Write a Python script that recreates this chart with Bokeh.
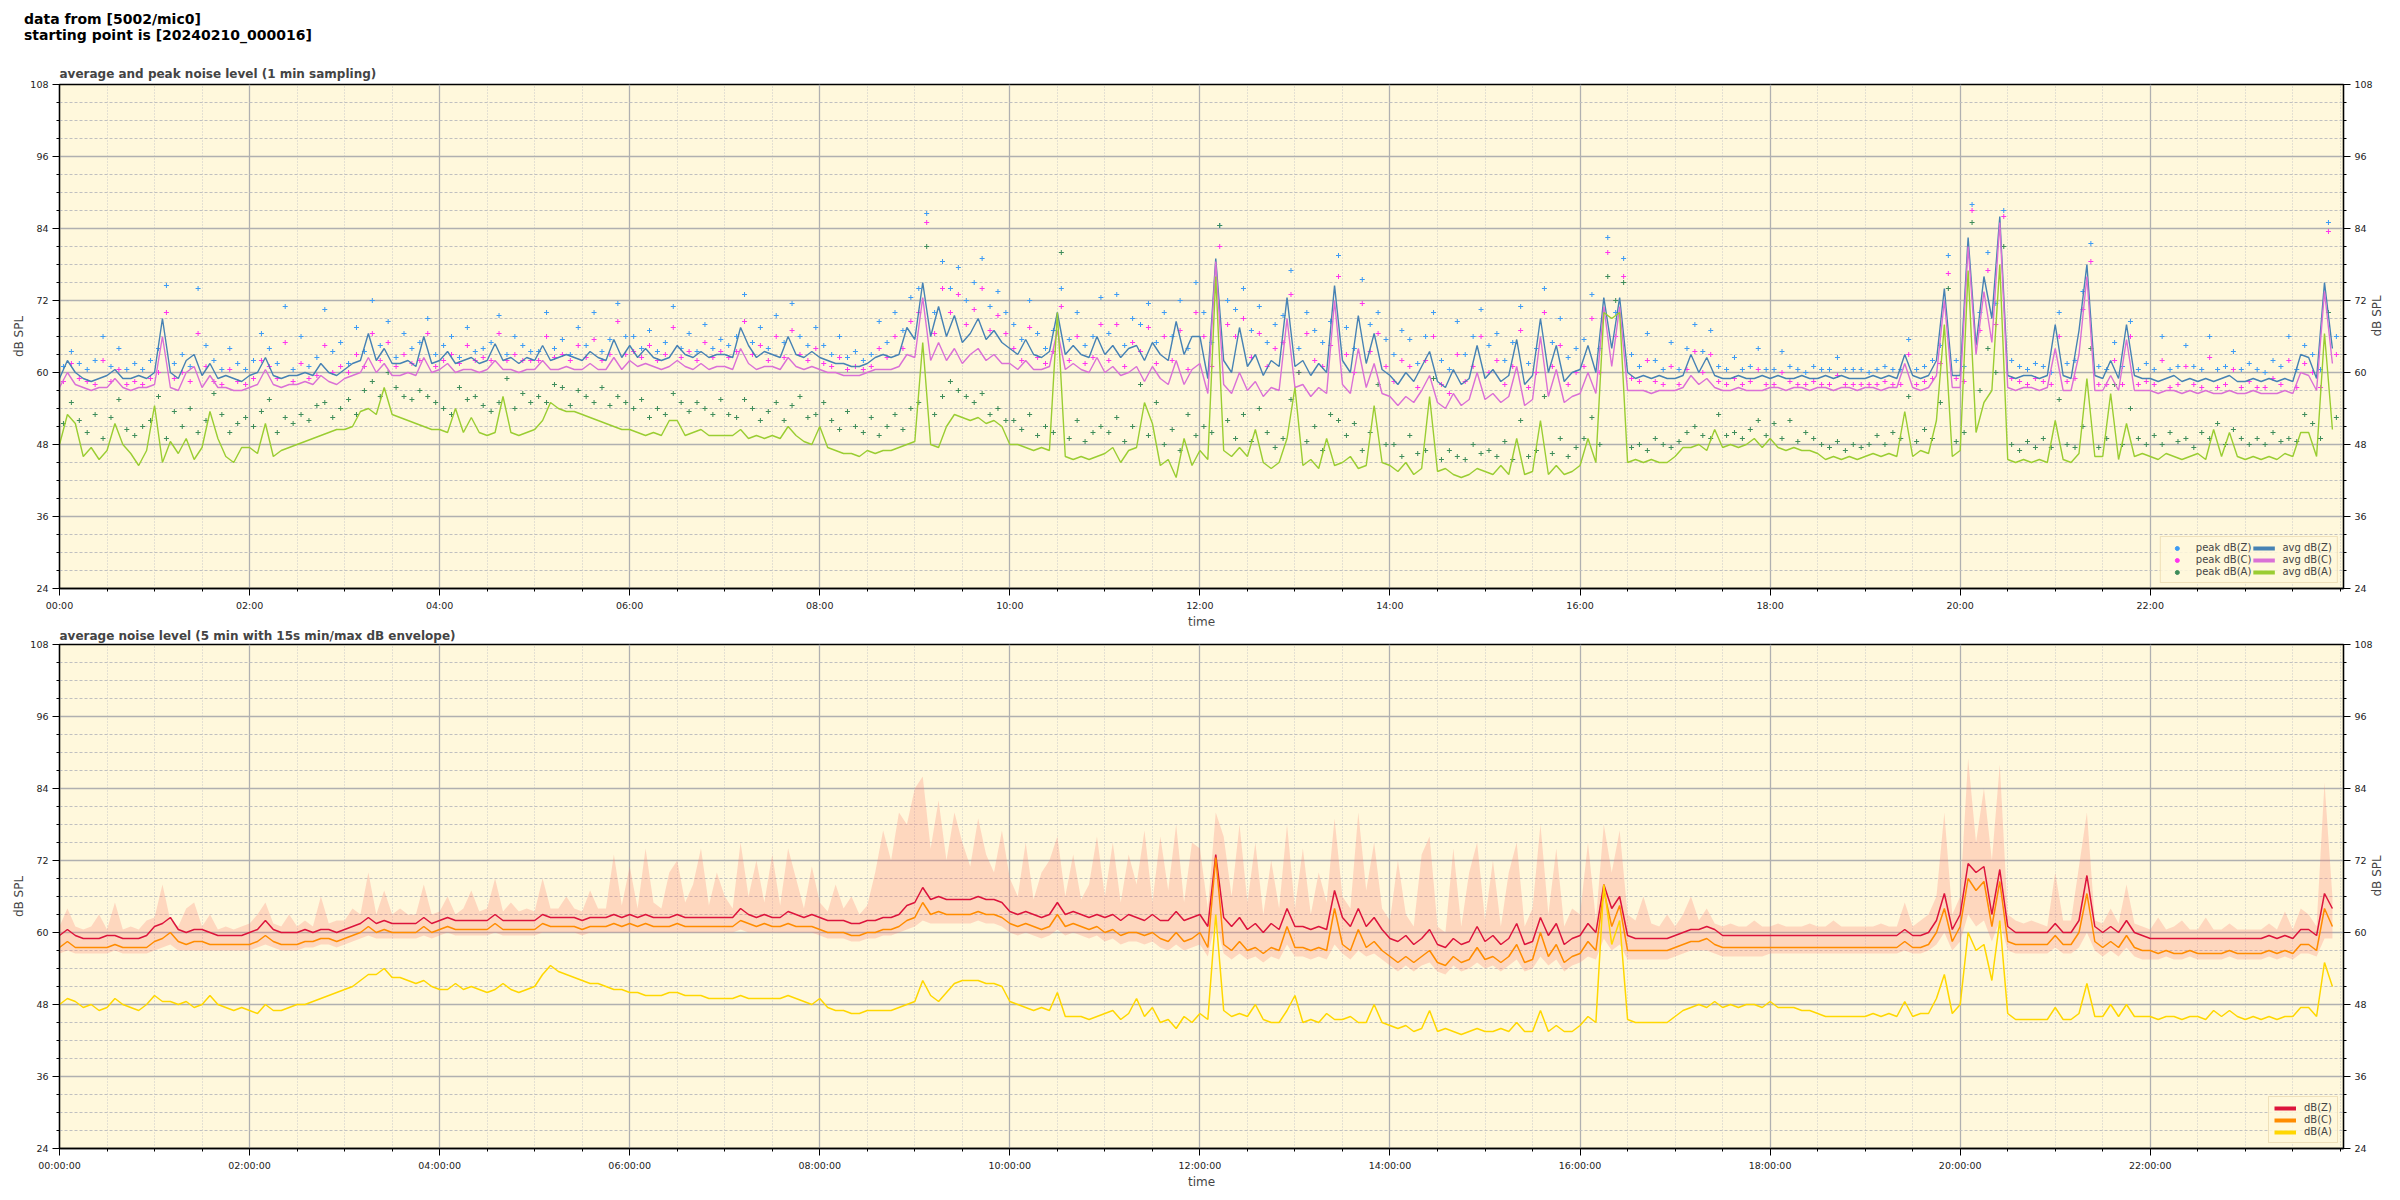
import math
from bokeh.plotting import figure
from bokeh.models import FixedTicker, LinearAxis, Range1d, Legend, LegendItem, Div
from bokeh.layouts import column
from bokeh.embed import file_html
from bokeh.resources import INLINE

# ---------------- data (5-minute grid, 00:00 .. 23:55) ----------------
minutes = list(range(0, 1440, 5))
peak_minutes = [m + 2.5 for m in minutes]

avg_z = [
    59, 62, 60, 59, 58.5, 59, 59.5, 60.5, 59, 59, 59.5, 59,
    60, 69, 60, 59, 62, 63, 59.5, 61.5, 59, 59.5, 59, 58.5,
    59.5, 60, 62.5, 59.5, 59, 59.5, 59.5, 60, 59.5, 61.5, 60, 59.5,
    60.5, 61.5, 62, 66.5, 62, 64, 61.5, 61.5, 62, 61, 66, 61.5,
    62, 63.5, 61.5, 62, 62.5, 61.5, 62, 64.8, 62, 62.5, 61.5, 62.5,
    62, 64.5, 62, 62.5, 63, 62.5, 62, 63.5, 62.5, 62, 65.5, 62.5,
    64.5, 62.5, 64, 62.5, 62, 62.5, 64.5, 63, 62.5, 63.5, 62.5, 63,
    63, 62.5, 67.5, 64.5, 62.5, 63.5, 63, 62.5, 66, 63, 62.5, 63.5,
    62.5, 62, 61.5, 61.5, 61, 61, 61.5, 62.5, 63, 62.5, 63, 67.5,
    65.5, 75, 66, 71, 66, 69.5, 65, 66.5, 69, 65.5, 67, 65,
    64, 63, 65.5, 63, 62.5, 63.5, 70, 63, 64.5, 63, 62.5, 66,
    63, 64.5, 62.5, 64, 64.5, 62, 65, 63, 62, 68.5, 63, 66,
    66, 59, 79, 62, 60, 67.5, 61, 63, 59.5, 62, 61, 72.5,
    61, 62, 59.5, 61.5, 60, 74.5, 62, 60, 69.5, 61.5, 66.5, 60.5,
    59.5, 58, 60, 58.5, 61, 63.5, 58.5, 57.5, 60.5, 58, 59, 64.5,
    59, 60.5, 58.5, 59.5, 65.5, 58, 59.5, 69, 60, 64.5, 58.5, 60,
    60.5, 64.5, 60, 72.5, 64, 72.5, 60, 59, 59.5, 59, 59.5, 59,
    59, 59.5, 63, 60, 62.5, 59.5, 59, 59, 59.5, 59, 59, 59.5,
    59, 59.5, 59, 59, 59.5, 59, 59, 59.5, 59, 59.5, 59, 59,
    59, 59.5, 59, 59.5, 59, 63, 59.5, 59, 59.5, 62, 74, 59.5,
    59.5, 82.5, 64.5, 76, 69, 86, 59.5, 59, 59.5, 59.5, 59, 59.5,
    68, 59.5, 59, 67, 78, 59.5, 59, 62, 59, 68, 59.5, 59,
    59, 58.5, 59, 59.5, 58.5, 59, 58.5, 59, 58.5, 59, 59.5, 58.5,
    58.5, 59, 58.5, 59, 58.5, 59, 58.5, 63, 62.5, 59, 75, 64,
]

avg_c = [
    57.5, 60, 58, 57.5, 57, 57.5, 57.5, 59, 57.5, 57, 57.5, 57.5,
    58, 66, 57.5, 57, 60, 61, 57.5, 59.5, 57.5, 57.5, 57, 57,
    57.5, 58, 60.5, 58, 57.5, 58, 58, 58.5, 58, 59.5, 58.5, 58,
    59, 59.5, 60, 62.5, 60, 61.5, 59.5, 59.5, 60, 59.5, 62.5, 60,
    60.5, 61.5, 60, 60.5, 60.5, 60, 60.5, 62, 60.5, 60.5, 60, 60.5,
    60.5, 62, 60.5, 60.5, 61, 60.5, 60.5, 61.5, 60.5, 60.5, 62.5, 60.5,
    62, 61, 61.5, 61, 60.5, 61, 62, 61, 60.5, 61.5, 60.5, 61,
    61, 60.5, 64, 61.5, 60.5, 61, 61, 60.5, 62.5, 61, 60.5, 61,
    60.5, 60, 60, 59.5, 59.5, 59.5, 60, 60.5, 60.5, 60.5, 61, 63,
    62.5, 72.5, 62, 65, 62, 64, 61.5, 63, 64, 62, 63, 61.5,
    61.5, 60.5, 62, 60.5, 60.5, 61, 67, 60.5, 61.5, 60.5, 60, 62.5,
    60, 61, 59.5, 60, 61, 58.5, 61, 59, 58, 62, 58, 60.5,
    61.5, 56.5, 78.5, 58, 56.5, 60, 57, 58.5, 56, 57.5, 57, 69,
    57.5, 58, 56, 57.5, 56.5, 72, 58, 56.5, 64, 57.5, 61.5, 56.5,
    56, 54.5, 56, 55, 57, 59.5, 55, 54, 56.5, 54.5, 55.5, 60,
    55.5, 56.5, 55, 56, 61, 54.5, 55.5, 66, 56, 60.5, 55, 56,
    56.5, 60, 56.5, 71, 61, 71, 57, 57, 57, 56.5, 57, 57,
    57, 57.5, 59.5, 58, 59, 57.5, 57, 57, 57.5, 57, 57, 57,
    57.5, 57.5, 57, 57.5, 57.5, 57, 57.5, 57.5, 57, 57.5, 57.5, 57,
    57.5, 57.5, 57, 57.5, 57.5, 61.5, 57.5, 57, 57.5, 59.5, 72, 57.5,
    57.5, 81, 63, 73.5, 65, 85, 57.5, 57, 57.5, 57.5, 57, 57.5,
    64, 57, 57, 63, 76, 57, 57, 59.5, 57, 65.5, 57, 57,
    57, 56.5, 57, 57, 56.5, 57, 56.5, 57, 56.5, 56.5, 57, 56.5,
    56.5, 57, 56.5, 56.5, 56.5, 57, 56.5, 60, 59.5, 57, 73.5, 61.5,
]

avg_a = [
    48, 53, 51.5, 46, 47.5, 45.5, 47, 51.5, 48, 46.5, 44.5, 47,
    54.5, 45, 48.5, 46.5, 49, 45.5, 47.5, 53.5, 49, 46, 45, 47.5,
    47.5, 46.5, 51.5, 46, 47, 47.5, 48, 48.5, 49, 49.5, 50, 50.5,
    50.5, 51, 53.5, 54, 53, 57.5, 53, 52.5, 52, 51.5, 51, 50.5,
    50.5, 50, 54, 50, 52.5, 50, 49.5, 50, 56, 50, 49.5, 50,
    50.5, 52, 55, 54, 53.5, 53.5, 53, 52.5, 52, 51.5, 51, 50.5,
    50.5, 50, 49.5, 50, 49.5, 52, 52, 49.5, 50, 50.5, 49.5, 49.5,
    49.5, 49.5, 50.5, 49, 49.5, 49, 49.5, 49, 51, 49.5, 48.5, 48,
    51, 47.5, 47, 46.5, 46.5, 46, 47, 46.5, 47, 47, 47.5, 48,
    48.5, 65, 48, 47.5, 51, 53, 52.5, 52, 52.5, 51.5, 52, 51,
    48, 48, 47.5, 47, 47.5, 47, 70, 46, 45.5, 46, 45.5, 46,
    46.5, 47.5, 45, 47, 47.5, 55, 51.5, 44.5, 45.5, 42.5, 49, 44.5,
    47, 45.5, 76, 47, 46, 47.5, 46, 50.5, 45, 44, 45, 49,
    57.5, 44.5, 45.5, 44, 49, 44.5, 45, 46, 44, 44.5, 54.5, 45,
    44.5, 43.5, 45, 43, 44, 56, 43.5, 44, 43, 42.5, 43, 44,
    43.5, 43, 44.5, 43, 49, 43, 43.5, 52, 43, 44.5, 43, 43.5,
    44.5, 49, 45, 70, 69, 70, 45, 45.5, 45, 45.5, 45, 45,
    46, 47.5, 47.5, 48, 47, 50.5, 47.5, 48, 47.5, 48, 49, 47.5,
    49, 47.5, 47, 47.5, 47, 47, 46.5, 45.5, 46, 45.5, 46, 45.5,
    46, 46.5, 46, 46.5, 46, 53.5, 46, 47, 46.5, 52, 68, 46,
    47, 77, 50, 55, 57, 78, 45.5, 45, 45.5, 45, 45.5, 45,
    52, 45.5, 45, 46.5, 59, 46, 46, 56.5, 45.5, 51.5, 46, 46.5,
    46, 45.5, 46.5, 46, 45.5, 46, 46.5, 45.5, 50.5, 46, 50, 46,
    45.5, 46, 45.5, 46, 45.5, 46.5, 46, 50, 50, 46, 66.5, 50.5,
]

peak_z = [
    61, 63.5, 61.5, 60.5, 62, 66, 61, 64, 60.5, 61.5, 60.5, 62,
    64, 74.5, 61.5, 63, 61, 74, 64.5, 62, 60.5, 64, 61.5, 60.5,
    62, 66.5, 64, 61.5, 71, 60.5, 66, 61, 62.5, 70.5, 63.5, 65,
    61.5, 67.5, 63.5, 72, 64.5, 68.5, 62.5, 66.5, 64, 65, 69, 63,
    64.5, 66, 62.5, 67.5, 63.5, 64, 65, 69.5, 63, 66, 64.5, 63.5,
    63.5, 70, 64, 65.5, 63, 67.5, 64.5, 70, 63.5, 65.5, 71.5, 66,
    66, 64, 67, 63.5, 65, 71, 64, 66.5, 63.5, 68, 64, 65.5,
    64.5, 66, 73, 65, 67.5, 64, 69.5, 65, 71.5, 66, 64.5, 67.5,
    64.5, 63, 66, 62.5, 63.5, 62, 63, 68.5, 65, 70, 67, 72.5,
    74, 86.5, 70, 78.5, 74, 77.5, 72, 75, 79, 71, 73.5, 70,
    68, 65.5, 72, 66.5, 64, 67, 74, 65.5, 70, 64.5, 66, 72.5,
    66.5, 73, 64.5, 69, 68, 71.5, 65, 70, 66, 72, 64, 75,
    70, 65, 84.5, 72, 70.5, 74, 67, 71, 65, 68, 69.5, 77,
    64, 70, 67, 65, 68.5, 79.5, 67.5, 64, 75.5, 68, 70, 65.5,
    63, 67, 65.5, 61.5, 66, 70, 62, 60.5, 68.5, 63, 66, 70.5,
    64.5, 66.5, 62, 65, 71, 61.5, 64, 74, 65, 69, 62.5, 64,
    65.5, 73, 64, 82.5, 70, 79, 63, 61, 66.5, 62, 60.5, 65,
    60.5, 64, 68, 63.5, 67, 61, 60.5, 62.5, 60.5, 61, 64, 60.5,
    60.5, 63.5, 61, 60.5, 60, 61, 60.5, 60.5, 62.5, 60.5, 60.5, 60.5,
    60, 60.5, 61, 60.5, 60.5, 65.5, 60.5, 61, 62, 64.5, 79.5, 62,
    61, 88, 70, 80, 71.5, 87, 62, 61, 60.5, 61.5, 61, 60,
    70, 61.5, 62, 73.5, 81.5, 61, 60.5, 65, 61, 68.5, 60.5, 61.5,
    60.5, 66, 60.5, 61, 64.5, 61, 60.5, 66, 60.5, 61, 63.5, 60.5,
    61.5, 60.5, 60, 62, 61, 66, 60.5, 64.5, 63, 60.5, 85, 66,
]

peak_c = [
    58.5, 61.5, 59, 58.5, 58, 62, 58.5, 60.5, 58, 58.5, 58, 59,
    60, 70, 59, 60, 58.5, 66.5, 61, 58.5, 58, 60.5, 58.5, 58,
    59, 62, 61, 59, 65, 58.5, 61.5, 59, 59.5, 64.5, 60, 61,
    60, 63, 61, 66.5, 62, 65, 61, 63, 61.5, 62, 66.5, 61,
    62, 63, 61.5, 64.5, 62, 62.5, 62, 66.5, 62, 63, 62, 62,
    62, 66, 62.5, 63, 62, 64.5, 62.5, 65.5, 62, 63, 68.5, 63,
    63.5, 62.5, 64.5, 62, 63, 67.5, 62.5, 63.5, 62, 65, 62.5, 63.5,
    62.5, 63.5, 68.5, 63, 64.5, 62, 66, 62.5, 67, 63, 62, 64,
    61.5, 61, 62.5, 60.5, 61, 60.5, 61, 64, 62.5, 66, 64, 68.5,
    70, 85, 66.5, 74, 70, 73, 68, 70.5, 74, 67, 69.5, 66.5,
    64, 62, 67.5, 62.5, 61.5, 63.5, 71, 62, 66, 61.5, 62.5, 68,
    62, 68, 61, 65, 63.5, 67.5, 61.5, 66, 62, 67, 60.5, 70,
    66, 61, 81, 68, 66, 69, 62.5, 66.5, 61, 64, 65, 73,
    60, 66.5, 62, 61, 64.5, 76, 63, 60, 71.5, 63.5, 66.5, 61,
    58.5, 62, 61, 57.5, 62, 66, 58, 56.5, 63, 58.5, 61, 66,
    60, 62, 58, 61, 67, 57.5, 60, 70, 61, 64.5, 58, 60,
    61, 69, 60, 80, 66, 76, 59, 58.5, 62, 58.5, 58, 61,
    58, 60.5, 63.5, 60, 63, 58.5, 58, 59, 58, 58.5, 60.5, 58,
    58, 60, 58.5, 58, 58, 58.5, 58, 58, 59.5, 58, 58, 58,
    58, 58, 58.5, 58, 58, 63, 58, 58.5, 59, 61.5, 76.5, 59,
    58.5, 87, 67, 77, 68, 86, 59, 58.5, 58, 59, 58.5, 58,
    66, 58.5, 59, 70.5, 78.5, 58, 58, 62, 58, 66, 58, 58.5,
    58, 62, 57.5, 58, 61, 58, 57.5, 62.5, 57.5, 58, 60.5, 57.5,
    58.5, 57.5, 57.5, 59, 58, 62, 57.5, 61.5, 60, 57.5, 83.5, 63,
]

peak_a = [
    51.5, 55, 52, 50, 53, 49, 52.5, 55.5, 50.5, 49.5, 51, 52,
    56, 49, 53.5, 51, 54, 50, 52, 56.5, 53, 50, 51.5, 52.5,
    51, 53.5, 55.5, 50, 52.5, 51.5, 53, 52, 54.5, 55, 52.5, 54,
    55.5, 53, 57, 58.5, 56, 60, 57.5, 56, 55.5, 57, 56, 55,
    54, 53, 57.5, 55.5, 56, 54.5, 53.5, 55, 59, 54, 56.5, 55,
    56, 55, 58, 57.5, 54.5, 57, 56, 55, 57.5, 54.5, 56, 55,
    54, 55.5, 52.5, 54, 53, 56.5, 55, 53.5, 55, 54, 53, 55.5,
    53, 52.5, 55.5, 54, 52, 53.5, 55, 52, 54.5, 56, 52.5, 53,
    55, 52, 50.5, 53.5, 51, 50, 52.5, 49.5, 51, 53, 50.5, 54,
    55, 81, 53, 56, 58.5, 57, 56, 55, 56.5, 53, 54, 52,
    52, 50.5, 53, 49.5, 51, 50, 80, 49, 52, 48.5, 50, 51,
    50, 52.5, 48.5, 51, 58, 49.5, 55, 48, 50.5, 47, 53, 49.5,
    51, 50, 84.5, 52, 49, 53, 48.5, 54, 50, 47.5, 49, 55.5,
    60, 48.5, 51, 47, 53, 52, 49.5, 51.5, 47, 50, 58, 48,
    48, 46, 49.5, 46.5, 47, 59, 45.5, 47, 46, 45.5, 48, 46.5,
    47, 46, 48.5, 45.5, 52, 46, 47, 56, 46.5, 49, 46, 47.5,
    49, 52.5, 48, 76, 72, 75, 47.5, 48, 47, 49, 48, 47.5,
    48.5, 50, 51, 49.5, 49, 53, 49.5, 50, 49, 50.5, 52, 49.5,
    51.5, 49, 52, 48.5, 50, 49, 48, 47.5, 48.5, 47, 48, 47.5,
    48, 49.5, 48, 50, 49, 56, 48.5, 50.5, 49, 55, 74, 48.5,
    50, 85, 57, 64, 60, 81, 48, 47, 48.5, 47.5, 49, 47.5,
    55.5, 48, 47.5, 51, 64, 47.5, 49, 58, 48, 54, 49, 48,
    49.5, 48, 50, 48.5, 49, 47.5, 50, 49, 51.5, 48, 50.5, 49,
    48, 49, 48, 50, 48.5, 49, 48.5, 53, 51.5, 49, 70, 52.5,
]

lvl_z = [
    59.5, 60.5, 59.5, 59, 59, 59, 59.5, 59.5, 59, 59, 59, 59.5,
    61, 61.5, 62.5, 60.5, 60, 60.5, 60.5, 60, 59.5, 59.5, 59.5, 59.5,
    60, 60.5, 62, 60.5, 60, 60, 60, 60.5, 60, 60.5, 60.5, 60,
    60.5, 61, 61.5, 62.5, 61.5, 62, 61.5, 61.5, 61.5, 61.5, 62.5, 61.5,
    62, 62.5, 62, 62, 62, 62, 62, 63, 62, 62, 62, 62,
    62, 63, 62.5, 62.5, 62.5, 62.5, 62, 62.5, 62.5, 62.5, 63, 62.5,
    63, 62.5, 63, 62.5, 62.5, 62.5, 63, 62.5, 62.5, 62.5, 62.5, 62.5,
    62.5, 62.5, 64, 63, 62.5, 63, 62.5, 62.5, 63.5, 63, 62.5, 63,
    62.5, 62, 62, 62, 61.5, 61.5, 62, 62, 62.5, 62.5, 63, 64.5,
    65, 67.5, 65.5, 66, 65.5, 65.5, 65.5, 65.5, 66, 65.5, 65.5, 65,
    63.5, 63, 63.5, 63, 62.5, 63, 65, 63, 63.5, 63, 62.5, 63,
    62.5, 63, 62, 63, 62.5, 62, 63, 62, 62, 63.5, 62, 62.5,
    63, 61, 73, 62.5, 61, 62.5, 60.5, 61.5, 60, 61.5, 60.5, 64,
    61, 61, 60.5, 61, 60.5, 67, 62.5, 61, 64, 61, 62.5, 60.5,
    59, 58.5, 59.5, 58, 59, 60.5, 58, 57.5, 59, 58, 58.5, 61,
    58.5, 59.5, 58, 59, 61.5, 58, 58.5, 62.5, 59.5, 61.5, 58, 59,
    59.5, 61.5, 60, 68, 64, 66, 59.5, 59, 59, 59, 59, 59,
    59.5, 60, 60.5, 60.5, 61, 60.5, 59.5, 59.5, 59.5, 59.5, 59.5, 59.5,
    59.5, 59.5, 59.5, 59.5, 59.5, 59.5, 59.5, 59.5, 59.5, 59.5, 59.5, 59.5,
    59.5, 59.5, 59.5, 59.5, 59.5, 60.5, 59.5, 59.5, 60, 62, 66.5, 60.5,
    63, 71.5, 70, 71, 63, 70.5, 61, 60, 60, 60, 60, 60,
    61.5, 60, 60, 62, 69.5, 61, 60, 61, 60, 62, 60, 59.5,
    59, 59, 59, 59, 59, 59, 59, 59, 59, 59, 59, 59,
    59, 59, 59, 59.5, 59, 59.5, 59, 60.5, 60.5, 59.5, 66.5, 64,
]

lvl_c = [
    57.5, 58.5, 57.5, 57.5, 57.5, 57.5, 57.5, 58, 57.5, 57.5, 57.5, 57.5,
    58.5, 59, 60, 58.5, 58, 58.5, 58.5, 58, 58, 58, 58, 58,
    58, 58.5, 59.5, 58.5, 58, 58, 58, 58.5, 58.5, 59, 59, 58.5,
    59, 59.5, 60, 61, 60, 60.5, 60, 60, 60, 60, 61, 60,
    60.5, 61, 60.5, 60.5, 60.5, 60.5, 60.5, 61.5, 60.5, 60.5, 60.5, 60.5,
    60.5, 61.5, 61, 61, 61, 61, 60.5, 61, 61, 61, 61.5, 61,
    61.5, 61, 61.5, 61, 61, 61, 61.5, 61, 61, 61, 61, 61,
    61, 61, 62, 61.5, 61, 61.5, 61, 61, 61.5, 61, 61, 61,
    60.5, 60, 60, 60, 59.5, 59.5, 60, 60, 60.5, 60.5, 61, 62,
    62.5, 65, 63, 63.5, 63, 63, 63, 63, 63.5, 63, 63, 62.5,
    61.5, 61, 61.5, 61, 60.5, 61, 63, 61, 61.5, 61, 60.5, 61,
    60, 60.5, 59.5, 60, 60, 59.5, 60, 59, 58.5, 60, 58.5, 59,
    60, 57.5, 72.5, 58, 57, 58.5, 57, 57.5, 56.5, 57.5, 57, 61,
    57.5, 57.5, 57, 57.5, 57, 64, 58, 57, 60.5, 57.5, 58.5, 57,
    56, 55, 56, 55, 56, 57, 55, 54.5, 56, 55, 55.5, 57.5,
    55.5, 56, 55, 56, 58, 55, 55.5, 60, 56, 58, 55, 56,
    56.5, 58.5, 57, 67, 61, 64.5, 57, 57, 57, 57, 57, 57,
    57.5, 58, 58.5, 58.5, 59, 58, 57.5, 57.5, 57.5, 57.5, 57.5, 57.5,
    57.5, 57.5, 57.5, 57.5, 57.5, 57.5, 57.5, 57.5, 57.5, 57.5, 57.5, 57.5,
    57.5, 57.5, 57.5, 57.5, 57.5, 58.5, 57.5, 57.5, 58, 60, 64, 58.5,
    61, 69, 67, 68.5, 61, 68.5, 58.5, 58, 58, 58, 58, 58,
    59.5, 58, 58, 60, 66.5, 58.5, 57.5, 58.5, 57.5, 59.5, 57.5, 57,
    57, 56.5, 57, 56.5, 56.5, 57, 56.5, 56.5, 56.5, 56.5, 57, 56.5,
    56.5, 56.5, 56.5, 57, 56.5, 57, 56.5, 58, 58, 57, 64, 61,
]

lvl_a = [
    48, 49, 48.5, 47.5, 48, 47, 47.5, 49, 48, 47.5, 47, 48,
    49.5, 48.5, 48.5, 48, 48.5, 47.5, 48, 49.5, 48, 47.5, 47, 47.5,
    47, 46.5, 48, 47, 47, 47.5, 48, 48, 48.5, 49, 49.5, 50,
    50.5, 51, 52, 53, 53, 54, 52.5, 52.5, 52, 51.5, 52, 51,
    50.5, 50.5, 51.5, 50.5, 51, 50.5, 50, 50.5, 51.5, 50.5, 50, 50.5,
    51, 53, 54.5, 53.5, 53, 52.5, 52, 51.5, 51.5, 51, 50.5, 50.5,
    50, 50, 49.5, 49.5, 49.5, 50, 50, 49.5, 49.5, 49.5, 49, 49,
    49, 49, 49.5, 49, 49, 49, 49, 49, 49.5, 49, 48.5, 48,
    49, 47.5, 47, 47, 46.5, 46.5, 47, 47, 47, 47, 47.5, 48,
    48.5, 52, 49.5, 48.5, 50, 51.5, 52, 52, 52, 51.5, 51.5, 51,
    48.5, 48, 47.5, 47, 47.5, 47, 50, 46, 46, 46, 45.5, 46,
    46.5, 47, 45.5, 46.5, 49, 46, 47.5, 45, 45.5, 44, 46, 45,
    46.5, 45.5, 63, 47, 46, 46.5, 46, 48, 45.5, 45, 45, 47,
    49.5, 45, 45.5, 45, 46.5, 45.5, 45.5, 46, 45, 45, 48, 45,
    44.5, 44, 44.5, 43.5, 44, 47, 43.5, 44, 43.5, 43, 43.5, 44,
    43.5, 43.5, 44, 43.5, 45, 43.5, 43.5, 47, 43.5, 44.5, 43.5, 43.5,
    44.5, 46, 45, 68, 58, 62, 45.5, 45, 45, 45, 45, 45,
    46, 47, 47.5, 48, 47.5, 48.5, 47.5, 48, 47.5, 48, 48, 47.5,
    48.5, 47.5, 47.5, 47.5, 47, 47, 46.5, 46, 46, 46, 46, 46,
    46, 46.5, 46, 46.5, 46, 48.5, 46, 46.5, 46.5, 49, 53, 46.5,
    48, 60, 57, 58, 52, 62, 46.5, 45.5, 45.5, 45.5, 45.5, 45.5,
    47.5, 45.5, 45.5, 46.5, 51.5, 46, 46, 48, 46, 48, 46, 46,
    46, 45.5, 46, 46, 45.5, 46, 46, 45.5, 47, 46, 47, 46,
    45.5, 46, 45.5, 46, 45.5, 46, 46, 47.5, 47.5, 46, 55, 51,
]

env_max = [
    61, 64, 61, 60.5, 61, 63, 60.5, 65, 60.5, 61, 60.5, 62,
    62.5, 68, 62, 61, 64, 65, 61, 63, 60.5, 61, 60.5, 61,
    61.5, 63, 65, 61.5, 61, 63, 61, 62, 61, 66, 61.5, 62,
    62, 64, 63, 70, 63, 67, 63, 64, 63, 63, 68, 63,
    63.5, 66, 63, 64, 67, 63.5, 64, 69, 63.5, 65, 63.5, 64,
    63.5, 69, 64, 64, 66, 64, 63.5, 67, 64, 64, 73, 64.5,
    71, 64, 74, 65, 64, 70, 72, 65, 68, 74, 64.5, 70,
    66, 64, 75, 66, 72, 65, 73, 64.5, 74, 69, 64, 71,
    65, 63.5, 68, 64, 66, 63, 64.5, 70, 77, 72, 80, 78,
    84, 86, 74, 82, 72, 80, 75, 71, 79, 73, 70, 77,
    69, 66, 75, 65.5, 70, 72, 76, 66, 73, 65.5, 68, 76,
    66, 75, 65, 73, 68, 77, 65, 76, 67, 78, 65, 75,
    74, 64, 80, 76, 66, 78, 65, 75, 63, 72, 64, 78,
    64, 74, 63, 70, 65, 79, 66, 64, 80, 67, 75, 64,
    62, 72, 63, 61, 73, 76, 61, 60, 74, 61, 70, 75,
    62, 72, 61, 70, 75, 61, 64, 78, 63, 74, 61, 64,
    63, 75, 62, 78, 70, 77, 63, 62, 66, 61.5, 61, 63,
    61, 63, 66, 62, 64, 61.5, 61, 61.5, 61, 61, 62, 61,
    61, 61.5, 61, 61, 61, 61.5, 61, 61, 62, 61, 61, 61,
    61, 61, 61.5, 61, 61, 65, 61, 62, 63, 66, 80, 63,
    66, 89, 75, 84, 72, 88, 63, 62, 61.5, 62, 61.5, 61,
    70, 62, 62, 71, 80, 62, 61.5, 64, 61.5, 68, 61.5, 61,
    60.5, 62.5, 60.5, 61, 62, 60.5, 60.5, 62.5, 60.5, 60.5, 61.5, 60.5,
    60.5, 60.5, 60.5, 61.5, 60.5, 63.5, 60.5, 64, 63, 61, 85, 66,
]

env_min = [
    56.5, 57, 56.5, 56.5, 56.5, 56.5, 56.5, 57, 56.5, 56.5, 56.5, 56.5,
    57, 57.5, 58, 57, 57, 57, 57, 57, 57, 57, 57, 57,
    57, 57.5, 58, 57.5, 57, 57, 57, 57.5, 57.5, 58, 58, 57.5,
    58, 58.5, 59, 59.5, 59, 59, 59, 59, 59, 59, 59.5, 59,
    59.5, 60, 59.5, 59.5, 59.5, 59.5, 59.5, 60, 59.5, 59.5, 59.5, 59.5,
    59.5, 60, 60, 60, 60, 60, 59.5, 60, 60, 60, 60, 60,
    60, 60, 60, 60, 60, 60, 60, 60, 60, 60, 60, 60,
    60, 60, 60.5, 60, 60, 60, 60, 60, 60, 60, 60, 60,
    59.5, 59, 59, 59, 58.5, 58.5, 59, 59, 59.5, 59.5, 60, 60.5,
    61, 62, 61.5, 61.5, 61.5, 61.5, 61.5, 61.5, 62, 61.5, 61.5, 61,
    60, 59.5, 60, 59.5, 59, 59.5, 60.5, 59.5, 60, 59.5, 59, 59.5,
    58.5, 59, 58, 58.5, 58.5, 58, 58.5, 57.5, 57, 58, 57, 57.5,
    58, 56, 62, 56.5, 55.5, 56.5, 55.5, 56, 55, 56, 55.5, 58,
    56, 56, 55.5, 56, 55.5, 58, 56.5, 55.5, 57, 56, 56.5, 55.5,
    54.5, 53.5, 54.5, 53.5, 54.5, 55, 53.5, 53, 54.5, 53.5, 54, 55,
    54, 54.5, 53.5, 54.5, 55.5, 53.5, 54, 56, 54.5, 55.5, 53.5, 54.5,
    55, 56, 55.5, 59, 57, 58, 55.5, 55.5, 55.5, 55.5, 55.5, 55.5,
    56, 56.5, 57, 57, 57, 56.5, 56, 56, 56, 56, 56, 56,
    56.5, 56.5, 56.5, 56.5, 56.5, 56.5, 56.5, 56.5, 56.5, 56.5, 56.5, 56.5,
    56.5, 56.5, 56.5, 56.5, 56.5, 57, 56.5, 56.5, 57, 58, 60, 57,
    58.5, 63, 61, 62, 58.5, 62, 57, 56.5, 56.5, 56.5, 56.5, 56.5,
    57.5, 56.5, 56.5, 57.5, 60, 57, 56, 57, 56, 57.5, 56, 55.5,
    55.5, 55.5, 56, 55.5, 55.5, 56, 55.5, 55.5, 55.5, 55.5, 56, 55.5,
    55.5, 55.5, 55.5, 56, 55.5, 56, 55.5, 56.5, 56.5, 56, 59, 59,
]

x_major = [0, 120, 240, 360, 480, 600, 720, 840, 960, 1080, 1200, 1320]
x_minor = list(range(0, 1441, 30))
top_tick_labels = ["00:00", "02:00", "04:00", "06:00", "08:00", "10:00",
                   "12:00", "14:00", "16:00", "18:00", "20:00", "22:00"]
bottom_tick_labels = ["00:00:00", "02:00:00", "04:00:00", "06:00:00", "08:00:00", "10:00:00",
                      "12:00:00", "14:00:00", "16:00:00", "18:00:00", "20:00:00", "22:00:00"]
y_major = [24, 36, 48, 60, 72, 84, 96, 108]
y_minor = list(range(24, 109, 3))

FONT = "DejaVu Sans"
BG = "#fff8dc"


def style_axis(ax):
    ax.axis_label_text_font = FONT
    ax.axis_label_text_font_size = "12px"
    ax.axis_label_text_font_style = "normal"
    ax.major_label_text_font = FONT
    ax.major_label_text_font_size = "9.5px"
    ax.major_label_text_color = "#222222"
    ax.axis_line_color = "black"
    ax.axis_line_width = 1.3
    ax.major_tick_out = 7
    ax.major_tick_in = 0
    ax.minor_tick_out = 3
    ax.minor_tick_in = 0
    ax.major_tick_line_color = "black"
    ax.minor_tick_line_color = "black"
    ax.major_label_standoff = 4
    ax.axis_label_standoff = 1


def make_fig(title, tick_labels, top_border, bottom_border, standoff):
    p = figure(frame_width=2284, frame_height=504, output_backend="svg", toolbar_location=None,
               x_range=Range1d(0, 1442), y_range=Range1d(24, 108),
               min_border_left=59, min_border_right=49,
               min_border_top=top_border, min_border_bottom=bottom_border,
               background_fill_color=BG, border_fill_color="white",
               outline_line_color="black", outline_line_width=1.3, title=title)
    p.title.align = "left"
    p.title.text_font = FONT
    p.title.text_font_size = "12px"
    p.title.text_font_style = "bold"
    p.title.standoff = standoff
    p.title.offset = 0

    xt = FixedTicker(ticks=x_major, minor_ticks=x_minor)
    yt = FixedTicker(ticks=y_major, minor_ticks=y_minor)
    p.xaxis.ticker = xt
    p.xaxis.major_label_overrides = {k: v for k, v in zip(x_major, tick_labels)}
    p.xaxis.axis_label = "time"
    p.yaxis.ticker = yt
    p.yaxis.axis_label = "dB SPL"
    style_axis(p.xaxis[0])
    style_axis(p.yaxis[0])
    ra = LinearAxis(ticker=yt, axis_label="dB SPL")
    style_axis(ra)
    try:
        ra.axis_label_orientation = math.pi / 2
    except Exception:
        pass
    p.add_layout(ra, "right")

    p.xgrid.grid_line_color = "#b0b0b0"
    p.xgrid.grid_line_width = 1.3
    p.xgrid.minor_grid_line_color = "#c8c8c8"
    p.xgrid.minor_grid_line_dash = "1 2"
    p.xgrid.minor_grid_line_width = 1
    p.ygrid.grid_line_color = "#b0b0b0"
    p.ygrid.grid_line_width = 1.3
    p.ygrid.minor_grid_line_color = "#c0c0c0"
    p.ygrid.minor_grid_line_dash = "3 2"
    p.ygrid.minor_grid_line_width = 1
    return p


# ---------------- top panel ----------------
p1 = make_fig("average and peak noise level (1 min sampling)", top_tick_labels, 26, 30, 7)

PZ, PC, PA = "#3c9bf5", "#ff33ee", "#3d8c5a"
LZ, LC, LA = "#4682b4", "#da70d6", "#9acd32"

p1.scatter(peak_minutes, peak_z, marker="cross", size=5, line_width=1, color=PZ)
p1.scatter(peak_minutes, peak_c, marker="cross", size=5, line_width=1, color=PC)
p1.scatter(peak_minutes, peak_a, marker="cross", size=5, line_width=1, color=PA)
p1.line(minutes, avg_z, line_width=1.4, color=LZ)
p1.line(minutes, avg_c, line_width=1.4, color=LC)
p1.line(minutes, avg_a, line_width=1.4, color=LA)

# legend-only renderers, placed outside the visible range
off_x = [-500, -400]
off_y = [0, 0]
d_pz = p1.scatter(x=off_x, y=off_y, marker="circle", size=6, color=PZ)
d_pc = p1.scatter(x=off_x, y=off_y, marker="circle", size=6, color=PC)
d_pa = p1.scatter(x=off_x, y=off_y, marker="circle", size=6, color=PA)
d_lz = p1.line(x=off_x, y=off_y, line_width=4, color=LZ)
d_lc = p1.line(x=off_x, y=off_y, line_width=4, color=LC)
d_la = p1.line(x=off_x, y=off_y, line_width=4, color=LA)

leg1 = Legend(items=[
    LegendItem(label="peak dB(Z)", renderers=[d_pz]),
    LegendItem(label="peak dB(C)", renderers=[d_pc]),
    LegendItem(label="peak dB(A)", renderers=[d_pa]),
    LegendItem(label="avg dB(Z)", renderers=[d_lz]),
    LegendItem(label="avg dB(C)", renderers=[d_lc]),
    LegendItem(label="avg dB(A)", renderers=[d_la]),
], location="bottom_right", ncols=2)

# ---------------- bottom panel ----------------
p2 = make_fig("average noise level (5 min with 15s min/max dB envelope)", bottom_tick_labels, 10, 38, 3)
p2.margin = (-6, 0, 0, 0)

BZ, BC, BA = "#dc143c", "#ff8c00", "#ffd700"
p2.varea(x=minutes, y1=env_min, y2=env_max, fill_color="#fa8072", fill_alpha=0.28)
p2.line(minutes, lvl_z, line_width=1.5, color=BZ)
p2.line(minutes, lvl_c, line_width=1.5, color=BC)
p2.line(minutes, lvl_a, line_width=1.5, color=BA)

d_bz = p2.line(x=off_x, y=off_y, line_width=4, color=BZ)
d_bc = p2.line(x=off_x, y=off_y, line_width=4, color=BC)
d_ba = p2.line(x=off_x, y=off_y, line_width=4, color=BA)
leg2 = Legend(items=[
    LegendItem(label="dB(Z)", renderers=[d_bz]),
    LegendItem(label="dB(C)", renderers=[d_bc]),
    LegendItem(label="dB(A)", renderers=[d_ba]),
], location="bottom_right")

for lg in (leg1, leg2):
    lg.label_text_font = FONT
    lg.label_text_font_size = "10px"
    lg.label_height = 10
    lg.glyph_height = 10
    lg.glyph_width = 22
    lg.label_standoff = 8
    lg.spacing = 1
    lg.padding = 5
    lg.margin = 5
    lg.background_fill_color = BG
    lg.background_fill_alpha = 0.85
    lg.border_line_color = "#e0c896"
    lg.border_line_width = 1.5

p1.add_layout(leg1)
p2.add_layout(leg2)

header = Div(text="data from [5002/mic0]<br>starting point is [20240210_000016]",
             width=2392, height=58, margin=(0, 0, 0, 0),
             styles={"font-family": FONT, "font-weight": "bold", "font-size": "14px",
                     "line-height": "15.5px", "padding-left": "24px", "padding-top": "12px",
                     "color": "black"})

layout = column(header, p1, p2, spacing=0)
open("out.html", "w").write(file_html(layout, INLINE))
